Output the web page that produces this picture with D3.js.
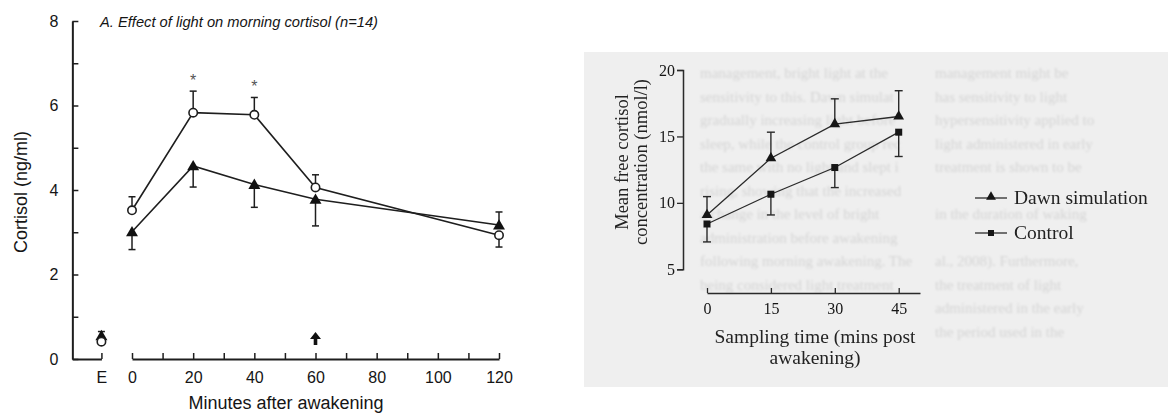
<!DOCTYPE html>
<html>
<head>
<meta charset="utf-8">
<script src="https://cdn.jsdelivr.net/npm/d3@7"></script>
<style>
  html, body { margin: 0; padding: 0; background: #fff; }
  svg { display: block; }
</style>
</head>
<body>
<svg id="chart" width="1168" height="419"></svg>
<script>
// ---- Panel A: effect of light on morning cortisol ----
const timesA = ["E", 0, 20, 40, 60, 120];
const lightMean = [0.41, 3.52, 5.83, 5.78, 4.06, 2.93];
const lightErrEnd = [null, 3.84, 6.34, 6.19, 4.36, 2.65];
const dimMean = [0.55, 3.01, 4.57, 4.13, 3.78, 3.17];
const dimErrEnd = [0.65, 2.59, 4.07, 3.59, 3.15, 3.48];
const starTimes = [20, 40];
const arrowTime = 60;
const yTicksA = [0, 1, 2, 3, 4, 5, 6, 7, 8];
const xTicksA = [0, 10, 20, 30, 40, 50, 60, 70, 80, 90, 100, 110, 120];

// ---- Panel B: dawn simulation vs control ----
const timesB = [0, 15, 30, 45];
const dawnMean = [9.09, 13.36, 15.93, 16.5];
const dawnErrEnd = [10.47, 15.32, 17.83, 18.44];
const controlMean = [8.41, 10.65, 12.66, 15.32];
const controlErrEnd = [7.06, 9.09, 11.15, 13.49];
const yTicksB = [5, 10, 15, 20];
const seriesNamesB = ["Dawn simulation", "Control"];

// faint print from the rest of the page, two columns
const pageLeft = [
  "management, bright light at the",
  "sensitivity to this. Dawn simulat",
  "gradually increasing light before",
  "sleep, while the control group rec",
  "the same with no light and slept i",
  "rising, showing that the increased",
  "a change in the level of bright",
  "administration before awakening",
  "following morning awakening. The",
  "being considered light treatment"
];
const pageRight = [
  "management might be",
  "has sensitivity to light",
  "hypersensitivity applied to",
  "light administered in early",
  "treatment is shown to be",
  "",
  "in the duration of waking",
  "",
  "al., 2008). Furthermore,",
  "the treatment of light",
  "administered in the early",
  "the period used in the"
];

const svg = d3.select("#chart");
const sans = "'Liberation Sans', Arial, Helvetica, sans-serif";
const serif = "'Liberation Serif', 'Times New Roman', serif";

// ================= Panel A =================
const xA = d3.scaleLinear().domain([0, 120]).range([132, 499]);
const yA = d3.scaleLinear().domain([0, 8]).range([359, 21]);
const ePos = -10;          // the early sample sits one minor step left of 0
const yAxisPos = -19.5;    // the y axis sits left of the E sample
const posA = t => xA(t === "E" ? ePos : t);
const inkA = "#1e1e1e";

const gA = svg.append("g");

function styleAxis(g, ink, domW, tickW, font, size) {
  g.select(".domain").attr("stroke", ink).attr("stroke-width", domW);
  g.selectAll(".tick line").attr("stroke", ink).attr("stroke-width", tickW);
  g.selectAll(".tick text").attr("font-family", font).attr("font-size", size).attr("fill", "#151515");
}

// y axis, ticks pointing inward
const yAxisA = d3.axisLeft(yA).tickValues(yTicksA)
  .tickSizeInner(-6).tickSizeOuter(0).tickPadding(14)
  .tickFormat(d => d % 2 === 0 ? d : "");
const gyA = gA.append("g").attr("transform", `translate(${xA(yAxisPos)},0)`).call(yAxisA);
styleAxis(gyA, inkA, 2, 1.5, sans, 16);

// x axis: main segment 0-120 with upward ticks
const xAxisA = d3.axisBottom(xA).tickValues(xTicksA)
  .tickSizeInner(-6).tickSizeOuter(0).tickPadding(13)
  .tickFormat(d => d % 20 === 0 ? d : "");
const gxA = gA.append("g").attr("transform", `translate(0,${yA(0)})`).call(xAxisA);
styleAxis(gxA, inkA, 2, 1.5, sans, 16);

// short segment from the y axis to the E sample
const xE = d3.scaleLinear().domain([yAxisPos, ePos]).range([xA(yAxisPos), xA(ePos)]);
const gxE = gA.append("g").attr("transform", `translate(0,${yA(0)})`)
  .call(d3.axisBottom(xE).tickValues([ePos]).tickSizeInner(-6).tickSizeOuter(0)
    .tickPadding(13).tickFormat(() => "E"));
styleAxis(gxE, inkA, 2, 1.5, sans, 16);

// axis titles
gA.append("text").attr("transform", `translate(27,${(yA(0) + yA(8)) / 2 + 2}) rotate(-90)`)
  .attr("text-anchor", "middle").attr("font-family", sans).attr("font-size", 18)
  .attr("fill", "#151515").text("Cortisol (ng/ml)");
gA.append("text").attr("x", 286).attr("y", 409)
  .attr("text-anchor", "middle").attr("font-family", sans).attr("font-size", 18)
  .attr("fill", "#151515").text("Minutes after awakening");
gA.append("text").attr("x", 100).attr("y", 27)
  .attr("font-family", sans).attr("font-size", 14.7).attr("font-style", "italic")
  .attr("fill", "#151515").text("A. Effect of light on morning cortisol (n=14)");

// lines (the E sample stands apart from the time course)
const lineA = d3.line().x(d => posA(d.t)).y(d => yA(d.v));
const rowsA = (means, errs) => timesA.map((t, i) => ({ t, v: means[i], e: errs[i] }));
const lightRows = rowsA(lightMean, lightErrEnd);
const dimRows = rowsA(dimMean, dimErrEnd);

[lightRows, dimRows].forEach(rows => {
  gA.append("path").datum(rows.filter(d => d.t !== "E"))
    .attr("d", lineA).attr("fill", "none").attr("stroke", inkA).attr("stroke-width", 1.6);
});

// one-sided error bars
function errorBars(g, rows, xf, yf, cap, color, width) {
  const b = g.append("g").attr("stroke", color).attr("stroke-width", width);
  rows.filter(d => d.e !== null).forEach(d => {
    b.append("line").attr("x1", xf(d.t)).attr("x2", xf(d.t))
      .attr("y1", yf(d.v)).attr("y2", yf(d.e));
    b.append("line").attr("x1", xf(d.t) - cap).attr("x2", xf(d.t) + cap)
      .attr("y1", yf(d.e)).attr("y2", yf(d.e));
  });
}
errorBars(gA, lightRows, posA, yA, 3.5, inkA, 1.5);
errorBars(gA, dimRows, posA, yA, 3.5, inkA, 1.5);

// markers
const tri = d3.symbol().type(d3.symbolTriangle);
gA.selectAll(".dim").data(dimRows).join("path")
  .attr("transform", d => `translate(${posA(d.t)},${yA(d.v) + 1})`)
  .attr("d", tri.size(62)).attr("fill", "#111");
gA.selectAll(".light").data(lightRows).join("circle")
  .attr("cx", d => posA(d.t)).attr("cy", d => yA(d.v)).attr("r", 4.2)
  .attr("fill", "#fff").attr("stroke", inkA).attr("stroke-width", 1.6);

// significance marks
starTimes.forEach(t => {
  const d = lightRows.find(r => r.t === t);
  gA.append("text").attr("x", posA(t)).attr("y", yA(d.e) - 5)
    .attr("text-anchor", "middle").attr("font-family", sans).attr("font-size", 16)
    .attr("fill", "#555").text("*");
});

// light-off arrow
const ax = xA(arrowTime), ab = yA(0) - 14;
gA.append("path")
  .attr("d", `M${ax - 1.8},${ab} L${ax - 1.8},${ab - 6} L${ax - 5.5},${ab - 6} L${ax},${ab - 13} L${ax + 5.5},${ab - 6} L${ax + 1.8},${ab - 6} L${ax + 1.8},${ab} Z`)
  .attr("fill", "#111");

// ================= Panel B =================
const gB = svg.append("g");
const defs = svg.append("defs");
defs.append("filter").attr("id", "soft").append("feGaussianBlur").attr("stdDeviation", 0.9);
defs.append("filter").attr("id", "ink").append("feGaussianBlur").attr("stdDeviation", 0.35);

gB.append("rect").attr("x", 584).attr("y", 52).attr("width", 584).attr("height", 335)
  .attr("fill", "#efefef");

const ghost = gB.append("g").attr("filter", "url(#soft)")
  .attr("font-family", serif).attr("font-size", 15).attr("fill", "#d4d4d4");
pageLeft.forEach((s, i) => {
  ghost.append("text").attr("x", 700).attr("y", 78 + i * 23.5).text(s);
});
pageRight.forEach((s, i) => {
  if (s) ghost.append("text").attr("x", 935).attr("y", 78 + i * 23.5).text(s);
});

const inkB = "#2a2a2a";
const xB = d3.scaleLinear().domain([0, 50]).range([707, 920]);
const yB = d3.scaleLinear().domain([5, 20]).range([269.3, 70]);
const plotB = gB.append("g").attr("filter", "url(#ink)");

const gyB = plotB.append("g").attr("transform", "translate(683,0)")
  .call(d3.axisLeft(yB).tickValues(yTicksB).tickSize(6).tickPadding(2));
styleAxis(gyB, inkB, 1.5, 1.3, serif, 16);

const gxB = plotB.append("g").attr("transform", "translate(0,293)")
  .call(d3.axisBottom(xB).tickValues(timesB).tickSizeInner(-5).tickSizeOuter(0).tickPadding(10));
styleAxis(gxB, inkB, 1.5, 1.3, serif, 16);

plotB.append("text").attr("transform", `translate(628,162) rotate(-90)`)
  .attr("text-anchor", "middle").attr("font-family", serif).attr("font-size", 18.5)
  .attr("fill", "#222").text("Mean free cortisol");
plotB.append("text").attr("transform", `translate(647,162) rotate(-90)`)
  .attr("text-anchor", "middle").attr("font-family", serif).attr("font-size", 18.5)
  .attr("fill", "#222").text("concentration (nmol/l)");
plotB.append("text").attr("x", 815).attr("y", 343).attr("text-anchor", "middle")
  .attr("font-family", serif).attr("font-size", 19.5).attr("fill", "#222")
  .text("Sampling time (mins post");
plotB.append("text").attr("x", 815).attr("y", 364).attr("text-anchor", "middle")
  .attr("font-family", serif).attr("font-size", 19.5).attr("fill", "#222")
  .text("awakening)");

const rowsB = (means, errs) => timesB.map((t, i) => ({ t, v: means[i], e: errs[i] }));
const dawnRows = rowsB(dawnMean, dawnErrEnd);
const controlRows = rowsB(controlMean, controlErrEnd);
const lineB = d3.line().x(d => xB(d.t)).y(d => yB(d.v));
[dawnRows, controlRows].forEach(rows => {
  plotB.append("path").datum(rows).attr("d", lineB)
    .attr("fill", "none").attr("stroke", inkB).attr("stroke-width", 1.3);
});
errorBars(plotB, dawnRows, d => xB(d), yB, 4, inkB, 1.4);
errorBars(plotB, controlRows, d => xB(d), yB, 4, inkB, 1.4);

plotB.selectAll(".dawn").data(dawnRows).join("path")
  .attr("transform", d => `translate(${xB(d.t)},${yB(d.v)})`)
  .attr("d", tri.size(50)).attr("fill", "#151515");
plotB.selectAll(".ctrl").data(controlRows).join("rect")
  .attr("x", d => xB(d.t) - 3.5).attr("y", d => yB(d.v) - 3.5)
  .attr("width", 7).attr("height", 7).attr("fill", "#151515");

// legend
const legend = plotB.append("g");
seriesNamesB.forEach((name, i) => {
  const ly = 198 + i * 35;
  legend.append("line").attr("x1", 975).attr("x2", 1007).attr("y1", ly).attr("y2", ly)
    .attr("stroke", inkB).attr("stroke-width", 1.3);
  if (i === 0) {
    legend.append("path").attr("transform", `translate(991,${ly - 1})`)
      .attr("d", tri.size(42)).attr("fill", "#151515");
  } else {
    legend.append("rect").attr("x", 988).attr("y", ly - 3).attr("width", 6).attr("height", 6)
      .attr("fill", "#151515");
  }
  legend.append("text").attr("x", 1014).attr("y", ly + 6)
    .attr("font-family", serif).attr("font-size", 19.5).attr("fill", "#222").text(name);
});
</script>
</body>
</html>
